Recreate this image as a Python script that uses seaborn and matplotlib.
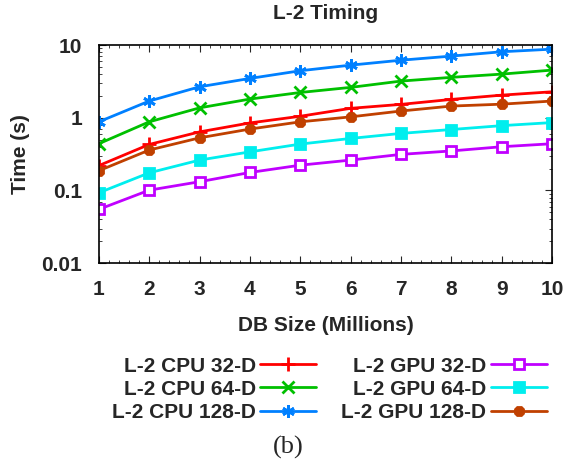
import numpy as np
import pandas as pd
import matplotlib
matplotlib.use("Agg")
import matplotlib.pyplot as plt
from matplotlib.ticker import MultipleLocator, LogLocator, FixedLocator
import seaborn as sns

# DB size (millions) and timings (s)
db_size = [1, 2, 3, 4, 5, 6, 7, 8, 9, 10]
cpu_32 = [0.22, 0.43, 0.64, 0.85, 1.05, 1.35, 1.53, 1.79, 2.05, 2.28]
cpu_64 = [0.44, 0.88, 1.37, 1.81, 2.23, 2.62, 3.2, 3.6, 3.99, 4.53]
cpu_128 = [0.88, 1.7, 2.67, 3.48, 4.44, 5.3, 6.2, 7.06, 8.1, 8.8]
gpu_32 = [0.055, 0.101, 0.132, 0.177, 0.223, 0.262, 0.314, 0.35, 0.40, 0.44]
gpu_64 = [0.093, 0.175, 0.262, 0.34, 0.435, 0.52, 0.61, 0.69, 0.78, 0.86]
gpu_128 = [0.187, 0.36, 0.53, 0.70, 0.88, 1.03, 1.24, 1.45, 1.54, 1.70]
y_ticks = [0.01, 0.1, 1, 10]
y_tick_labels = ["0.01", "0.1", "1", "10"]

series = [
    ("L-2 CPU 32-D", cpu_32, "#ff0000", "+", True),
    ("L-2 CPU 64-D", cpu_64, "#00c000", "x", True),
    ("L-2 CPU 128-D", cpu_128, "#0080ff", (6, 2, 0), True),
    ("L-2 GPU 32-D", gpu_32, "#c000ff", "s", False),
    ("L-2 GPU 64-D", gpu_64, "#00eeee", "s", True),
    ("L-2 GPU 128-D", gpu_128, "#c04000", "8", True),
]
marker_sizes = {"+": 10, "x": 9, "s": 7, "8": 7}

sns.set_style("ticks")
plt.rcParams["font.family"] = ["Liberation Sans", "DejaVu Sans"]
plt.rcParams["font.weight"] = "bold"
fs = 15

fig = plt.figure(figsize=(5.68, 4.65), dpi=100)
ax = fig.add_axes([0.174, 0.434, 0.798, 0.469])

for name, vals, col, mk, filled in series:
    df = pd.DataFrame({"size": db_size, "time": vals})
    sns.lineplot(data=df, x="size", y="time", ax=ax, color=col, marker=mk,
                 markersize=marker_sizes.get(mk, 9), linewidth=2,
                 markeredgewidth=2, markeredgecolor=col,
                 markerfacecolor=col if filled else "white",
                 label=name)

ax.set_yscale("log")
ax.set_xlim(1, 10)
ax.set_ylim(0.01, 10)
ax.xaxis.set_major_locator(MultipleLocator(1))
ax.xaxis.set_minor_locator(MultipleLocator(0.2))
ax.yaxis.set_major_locator(FixedLocator(y_ticks))
ax.set_yticklabels(y_tick_labels)
ax.yaxis.set_minor_locator(LogLocator(base=10, subs=np.arange(2, 10)))
ax.tick_params(which="both", direction="in", top=True, right=True,
               labelsize=fs, pad=12)
ax.tick_params(which="major", length=5)
ax.tick_params(which="minor", length=2.5)
for s in ax.spines.values():
    s.set_linewidth(1.2)
    s.set_color("black")

ax.set_title("L-2 Timing", fontsize=fs, fontweight="bold", pad=19)
ax.set_ylabel("Time (s)", fontsize=fs, fontweight="bold", labelpad=8)
ax.set_xlabel("DB Size (Millions)", fontsize=fs, fontweight="bold", labelpad=12)

handles, labels = ax.get_legend_handles_labels()
ax.legend_.remove()
fig.legend(handles, labels, ncol=2, markerfirst=False, frameon=False,
           loc="center", bbox_to_anchor=(0.58, 0.163), fontsize=fs,
           handlelength=2.7, columnspacing=1.2, labelspacing=0.2,
           handletextpad=0.2)

fig.text(0.507, 0.037, "(b)", family=["Liberation Serif"], fontweight="normal",
         fontsize=19, ha="center", va="center")

fig.savefig("out.png", dpi=100)
